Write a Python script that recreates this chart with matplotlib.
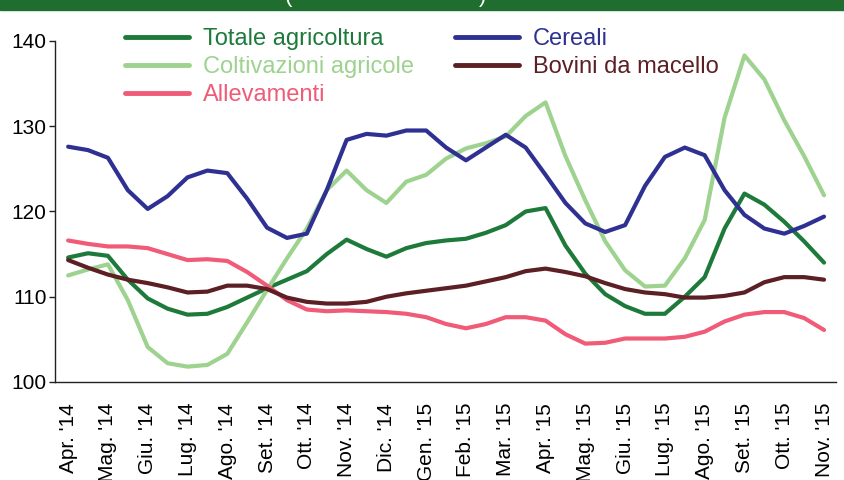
import numpy as np
import matplotlib.pyplot as plt

plt.rcParams["font.family"] = ["Liberation Sans", "DejaVu Sans"]

# etichette mensili (asse x)
mesi = ["Apr. '14", "Mag. '14", "Giu. '14", "Lug. '14", "Ago. '14", "Set. '14",
        "Ott. '14", "Nov. '14", "Dic. '14", "Gen. '15", "Feb. '15", "Mar. '15",
        "Apr. '15", "Mag. '15", "Giu. '15", "Lug. '15", "Ago. '15", "Set. '15",
        "Ott. '15", "Nov. '15"]

# valori, a metà mese
totale = [114.6, 115.1, 114.8, 112.0, 109.8, 108.6, 107.9, 108.0, 108.8, 109.9,
          111.0, 112.0, 113.0, 115.0, 116.7, 115.6, 114.7, 115.7, 116.3, 116.6,
          116.8, 117.5, 118.4, 120.0, 120.4, 116.0, 112.7, 110.3, 108.9, 108.0,
          108.0, 110.0, 112.3, 118.0, 122.1, 120.8, 118.8, 116.5, 114.0]
coltivazioni = [112.5, 113.2, 113.8, 109.6, 104.1, 102.2, 101.8, 102.0, 103.3, 107.0,
                110.8, 114.5, 118.0, 122.5, 124.8, 122.5, 121.0, 123.5, 124.3, 126.2,
                127.4, 128.0, 128.8, 131.2, 132.8, 126.5, 121.3, 116.5, 113.1, 111.2,
                111.3, 114.5, 119.0, 131.0, 138.3, 135.5, 130.7, 126.5, 121.9]
allevamenti = [116.6, 116.2, 115.9, 115.9, 115.7, 115.0, 114.3, 114.4, 114.2, 112.9,
               111.3, 109.6, 108.5, 108.3, 108.4, 108.3, 108.2, 108.0, 107.6, 106.8,
               106.3, 106.8, 107.6, 107.6, 107.2, 105.6, 104.5, 104.6, 105.1, 105.1,
               105.1, 105.3, 105.9, 107.1, 107.9, 108.2, 108.2, 107.5, 106.1]
cereali = [127.6, 127.2, 126.3, 122.5, 120.3, 121.8, 124.0, 124.8, 124.5, 121.5,
           118.1, 116.9, 117.4, 122.5, 128.4, 129.1, 128.9, 129.5, 129.5, 127.5,
           126.0, 127.5, 129.0, 127.5, 124.3, 121.0, 118.6, 117.6, 118.4, 123.0,
           126.4, 127.5, 126.6, 122.5, 119.6, 118.0, 117.4, 118.3, 119.4]
bovini = [114.3, 113.4, 112.6, 112.0, 111.6, 111.1, 110.5, 110.6, 111.3, 111.3,
          110.9, 109.9, 109.4, 109.2, 109.2, 109.4, 110.0, 110.4, 110.7, 111.0,
          111.3, 111.8, 112.3, 113.0, 113.3, 112.9, 112.4, 111.6, 110.9, 110.5,
          110.3, 109.9, 109.9, 110.1, 110.5, 111.7, 112.3, 112.3, 112.0]

serie = [
    ("Totale agricoltura", totale, "#1d7a3a"),
    ("Coltivazioni agricole", coltivazioni, "#9ed28f"),
    ("Allevamenti", allevamenti, "#f05b78"),
    ("Cereali", cereali, "#2e3192"),
    ("Bovini da macello", bovini, "#5b1f24"),
]

x = np.arange(len(totale)) / 2.0

fig = plt.figure(figsize=(8.45, 4.8), dpi=100)
ax = fig.add_axes([0.0651, 0.2042, 0.9242, 0.7104])

# ordine di disegno: prima quelle in secondo piano
for idx in [3, 4, 2, 0, 1]:
    nome, vals, col = serie[idx]
    ax.plot(x, vals, color=col, lw=3, solid_joinstyle="round",
            solid_capstyle="round", zorder=3 + idx)

ax.set_ylim(100, 140)
ax.set_xlim(-0.33, 19.3)
ax.set_yticks([100, 110, 120, 130, 140])
ax.set_xticks(np.arange(len(mesi)))
ax.set_xticklabels(mesi, rotation=90, va="top", ha="center")

ax.spines["top"].set_visible(False)
ax.spines["right"].set_visible(False)
for s in ["left", "bottom"]:
    ax.spines[s].set_color("#222222")
    ax.spines[s].set_linewidth(1.0)

ax.tick_params(axis="y", direction="out", length=4, width=1, color="#222222",
               labelsize=15, pad=2)
ax.tick_params(axis="x", length=0, labelsize=15, pad=15)

# legenda in due colonne, testo colorato
handles = [plt.Line2D([], [], color=c, lw=3.5, solid_capstyle="round") for _, _, c in serie]
leg = ax.legend(handles, [n for n, _, _ in serie], ncol=2, frameon=False,
                fontsize=17, handlelength=2.7, handletextpad=0.6,
                columnspacing=1.75, labelspacing=0.26, borderpad=0,
                loc="upper left", bbox_to_anchor=(113 / 845, 1 - 16 / 480),
                bbox_transform=fig.transFigure)
for t, (_, _, c) in zip(leg.get_texts(), serie):
    t.set_color(c)

# fascia verde del titolo (tagliata)
fig.patches.append(plt.Rectangle((0, 1 - 10 / 480), 1, 10 / 480,
                                 transform=fig.transFigure, color="#1f6e30"))
fig.text(285 / 845, 0.995, "(", color="white", fontsize=16, va="baseline")
fig.text(479 / 845, 0.995, ")", color="white", fontsize=16, va="baseline")

fig.savefig("out.png", dpi=100)
